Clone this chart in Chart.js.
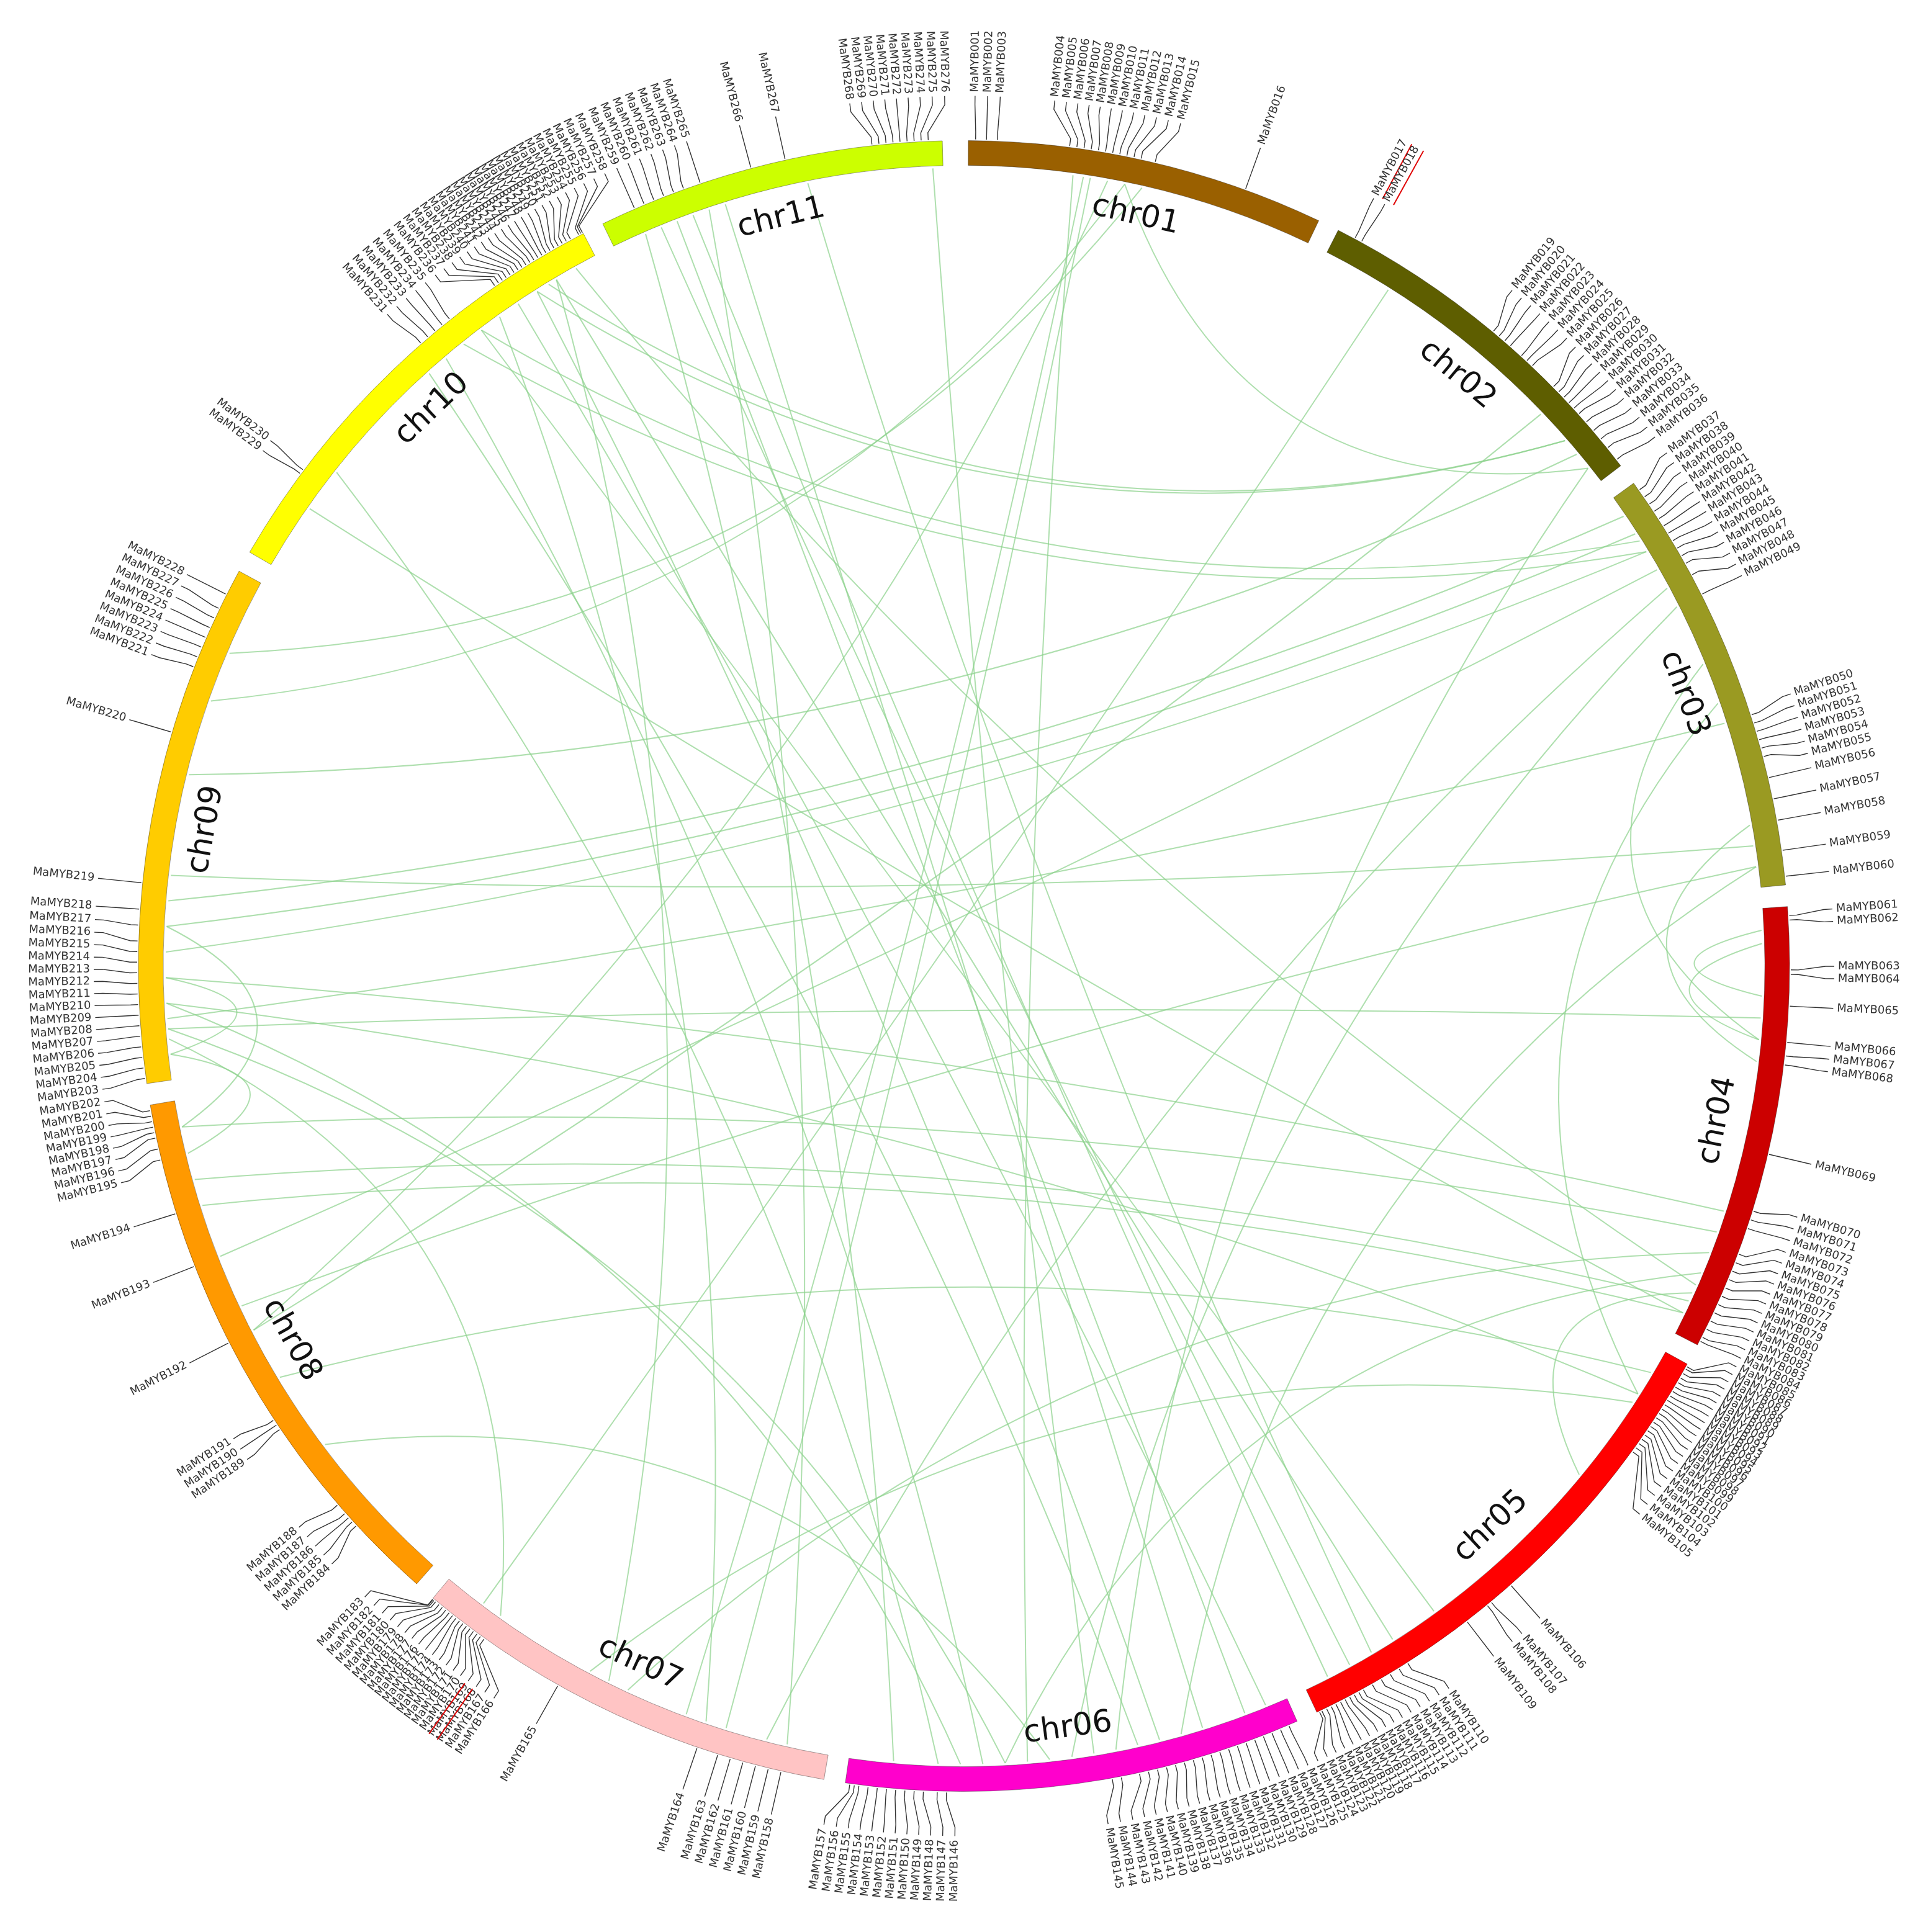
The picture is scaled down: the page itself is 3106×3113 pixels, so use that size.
<!DOCTYPE html>
<html><head><meta charset="utf-8">
<script src="https://cdn.jsdelivr.net/npm/chart.js@4"></script>
<style>body{margin:0;background:#fff}#wrap{width:3106px;height:3113px}</style>
</head><body><div id="wrap"><canvas id="c" width="3106" height="3113"></canvas></div>
<script>
// chromosomes (arc sizes, in degrees)
const chroms = ["chr01","chr02","chr03","chr04","chr05","chr06","chr07","chr08","chr09","chr10","chr11"];
const chromSizes = [25.1, 25.7, 30.1, 31.4, 35.8, 32.0, 30.2, 38.7, 36.7, 32.4, 24.4];
const chromColors = ["#9a6000","#5e5e00","#9a9a22","#cc0000","#ff0000","#ff00cc","#ffc4c4","#ff9900","#ffcc00","#ffff00","#ccff00"];
const gapSize = 1.5;

// gene positions along each chromosome (fraction of its length), MaMYB001..276 in order
const genePos = [
  [.02,.05,.08,.28,.30,.32,.34,.36,.38,.40,.42,.44,.46,.48,.52,.78],
  [.05,.07,.50,.52,.54,.56,.60,.62,.64,.72,.74,.76,.78,.80,.82,.85,.88,.91,.94,.98],
  [.02,.04,.06,.08,.10,.12,.14,.16,.18,.20,.22,.25,.30,.60,.62,.64,.66,.68,.70,.75,.80,.85,.92,.98],
  [.02,.03,.14,.15,.22,.30,.33,.35,.55,.68,.70,.72,.78,.80,.82,.84,.86,.88,.90,.92,.94,.96,.98,.99],
  [.005,.01,.02,.03,.04,.05,.06,.07,.08,.09,.10,.11,.12,.13,.14,.15,.16,.17,.18,.19,.20,.55,.60,.61,.66,.80,.82,.84,.86,.88,.90,.91,.92,.93,.94,.95,.96,.97,.98,.99,.995],
  [.02,.04,.06,.08,.10,.12,.14,.16,.18,.20,.22,.24,.26,.28,.30,.32,.34,.36,.40,.42,.78,.80,.83,.85,.87,.89,.91,.93,.95,.97,.98,.99],
  [.10,.13,.16,.19,.22,.25,.30,.65,.85,.86,.87,.88,.89,.90,.91,.92,.93,.94,.95,.96,.97,.98,.99,.995,.998,.999],
  [.15,.16,.17,.18,.20,.37,.38,.39,.55,.70,.80,.90,.92,.94,.95,.96,.97,.98,.99],
  [.01,.03,.05,.07,.09,.11,.13,.15,.17,.19,.21,.23,.25,.27,.30,.33,.38,.67,.80,.82,.84,.86,.88,.90,.92,.95],
  [.20,.21,.58,.60,.62,.64,.66,.78,.79,.80,.81,.82,.83,.84,.85,.86,.87,.88,.89,.90,.91,.92,.93,.94,.95,.96,.97,.99,.995,.999],
  [.10,.13,.16,.19,.22,.25,.30,.45,.55,.80,.82,.84,.86,.88,.90,.92,.94,.96]
];
const redGenes = ["MaMYB017","MaMYB018","MaMYB169","MaMYB170"];

// collinear pairs: [chrA, posA, chrB, posB]
const links = [
  [11,.60,5,.85],[11,.15,5,.90],[11,.20,6,.10],[11,.25,5,.95],[11,.35,6,.20],[11,.97,6,.45],
  [10,.90,5,.80],[10,.85,6,.30],[10,.80,6,.05],[10,.75,7,.30],[10,.70,5,.70],[10,.65,3,.15],
  [10,.95,4,.88],[10,.88,2,.85],[10,.55,6,.35],[10,.15,4,.95],
  [1,.35,7,.25],[1,.30,6,.60],[1,.40,8,.55],[1,.33,7,.35],[1,.50,9,.85],[1,.45,2,.95],
  [2,.85,10,.85],[2,.90,9,.60],[2,.75,8,.55],[2,.95,6,.40],
  [3,.05,9,.35],[3,.10,9,.30],[3,.15,9,.25],[3,.20,8,.70],[3,.12,10,.70],[3,.30,6,.50],
  [3,.25,7,.15],[3,.90,9,.40],[3,.95,6,.25],[3,.55,5,.10],[3,.45,4,.30],
  [4,.05,4,.20],[4,.08,4,.30],[4,.35,3,.85],[4,.70,9,.20],[4,.75,8,.95],[4,.80,7,.50],
  [4,.85,6,.65],[4,.90,5,.30],[4,.95,8,.80],
  [5,.05,8,.45],[5,.10,9,.15],[5,.12,7,.60],
  [6,.55,8,.30],[6,.65,9,.10],[6,.70,10,.60],[6,.80,10,.25],[6,.90,11,.10],
  [7,.10,11,.30],[7,.55,10,.90],[7,.85,9,.08],[7,.90,2,.20],
  [8,.90,9,.05],[8,.95,9,.30],[8,.60,3,.95],[8,.85,4,.92],
  [9,.05,9,.20],[9,.10,4,.25],[9,.12,3,.60],[9,.15,6,.75],[9,.75,1,.45]
];

const sliceData = [0.3], sliceColors = ["rgba(0,0,0,0)"], sliceChrom = [-1];
chromSizes.forEach((s, i) => {
  sliceData.push(s); sliceColors.push(chromColors[i]); sliceChrom.push(i);
  sliceData.push(gapSize); sliceColors.push("rgba(0,0,0,0)"); sliceChrom.push(-1);
});

const circos = {
  id: "circos",
  afterDatasetsDraw(chart) {
    const ctx = chart.ctx;
    const arcs = chart.getDatasetMeta(0).data;
    const chr = [];
    arcs.forEach((a, k) => { if (sliceChrom[k] >= 0) chr[sliceChrom[k]] = a; });
    const cx = chr[0].x, cy = chr[0].y, rOut = chr[0].outerRadius, rIn = chr[0].innerRadius;
    const ang = (c, f) => chr[c].startAngle + f * (chr[c].endAngle - chr[c].startAngle);

    // links
    ctx.save();
    ctx.strokeStyle = "rgba(140,210,140,0.7)";
    ctx.lineWidth = 2;
    links.forEach(([a, fa, b, fb]) => {
      const t1 = ang(a - 1, fa), t2 = ang(b - 1, fb);
      let d = Math.abs(t1 - t2) % (2 * Math.PI); if (d > Math.PI) d = 2 * Math.PI - d;
      const mid = Math.atan2(Math.sin(t1) + Math.sin(t2), Math.cos(t1) + Math.cos(t2));
      const k = rIn * 0.85 * (1 - d / Math.PI);
      const r = rIn - 4;
      ctx.beginPath();
      ctx.moveTo(cx + r * Math.cos(t1), cy + r * Math.sin(t1));
      ctx.quadraticCurveTo(cx + k * Math.cos(mid), cy + k * Math.sin(mid), cx + r * Math.cos(t2), cy + r * Math.sin(t2));
      ctx.stroke();
    });
    ctx.restore();

    // outline of chromosomes
    ctx.save();
    ctx.strokeStyle = "rgba(0,0,0,0.35)"; ctx.lineWidth = 1;
    chr.forEach(a => {
      ctx.beginPath();
      ctx.arc(cx, cy, rOut, a.startAngle, a.endAngle);
      ctx.arc(cx, cy, rIn, a.endAngle, a.startAngle, true);
      ctx.closePath(); ctx.stroke();
    });
    ctx.restore();

    // chromosome names
    ctx.save();
    ctx.font = "50px 'DejaVu Sans'"; ctx.fillStyle = "#111";
    ctx.textAlign = "center"; ctx.textBaseline = "middle";
    chr.forEach((a, i) => {
      const m = (a.startAngle + a.endAngle) / 2;
      const r = rIn - 50;
      ctx.save();
      ctx.translate(cx + r * Math.cos(m), cy + r * Math.sin(m));
      let rot = m + Math.PI / 2;
      const deg = ((rot * 180 / Math.PI) % 360 + 360) % 360;
      if (deg > 90 && deg < 270) rot += Math.PI;
      ctx.rotate(rot);
      ctx.fillText(chroms[i], 0, 0);
      ctx.restore();
    });
    ctx.restore();

    // gene labels with spread-out layout
    const genes = [];
    let n = 1;
    genePos.forEach((list, c) => list.forEach(f => {
      const t = ang(c, f);
      genes.push({ name: "MaMYB" + String(n++).padStart(3, "0"), t: t, lt: t });
    }));
    const minSep = 0.0145;
    for (let it = 0; it < 300; it++) {
      for (let i = 1; i < genes.length; i++) {
        const d = genes[i].lt - genes[i - 1].lt;
        if (d < minSep) {
          const push = (minSep - d) / 2;
          genes[i].lt += push; genes[i - 1].lt -= push;
        }
      }
      genes.forEach(g => { g.lt += (g.t - g.lt) * 0.02; });
    }
    const r1 = rOut + 14, r2 = rOut + 58, r3 = rOut + 72;
    ctx.save();
    ctx.strokeStyle = "#333"; ctx.lineWidth = 1.4;
    ctx.font = "18px 'DejaVu Sans'"; ctx.fillStyle = "#333"; ctx.textBaseline = "middle";
    genes.forEach(g => {
      ctx.beginPath();
      ctx.moveTo(cx + (rOut + 2) * Math.cos(g.t), cy + (rOut + 2) * Math.sin(g.t));
      ctx.lineTo(cx + r1 * Math.cos(g.t), cy + r1 * Math.sin(g.t));
      ctx.lineTo(cx + r2 * Math.cos(g.lt), cy + r2 * Math.sin(g.lt));
      ctx.lineTo(cx + r3 * Math.cos(g.lt), cy + r3 * Math.sin(g.lt));
      ctx.stroke();
      const rt = r3 + 6;
      ctx.save();
      ctx.translate(cx + rt * Math.cos(g.lt), cy + rt * Math.sin(g.lt));
      const deg = ((g.lt * 180 / Math.PI + 90) % 360 + 360) % 360;
      const w = ctx.measureText(g.name).width;
      if (deg <= 180) { ctx.rotate(g.lt); ctx.textAlign = "left"; ctx.fillText(g.name, 0, 0); }
      else { ctx.rotate(g.lt + Math.PI); ctx.textAlign = "right"; ctx.fillText(g.name, 0, 0); }
      if (redGenes.includes(g.name)) {
        ctx.strokeStyle = "#e00000"; ctx.lineWidth = 2;
        ctx.beginPath();
        if (deg <= 180) { ctx.moveTo(0, 13); ctx.lineTo(w, 13); }
        else { ctx.moveTo(-w, 13); ctx.lineTo(0, 13); }
        ctx.stroke();
      }
      ctx.restore();
    });
    ctx.restore();
  }
};

new Chart(document.getElementById("c"), {
  type: "doughnut",
  data: {
    labels: sliceChrom.map(i => i >= 0 ? chroms[i] : ""),
    datasets: [{ data: sliceData, backgroundColor: sliceColors, borderWidth: 0 }]
  },
  options: {
    responsive: false,
    animation: false,
    devicePixelRatio: 1,
    radius: 1330,
    cutout: "97%",
    layout: { padding: 0 },
    plugins: { legend: { display: false }, tooltip: { enabled: false } }
  },
  plugins: [circos]
});
</script></body></html>
